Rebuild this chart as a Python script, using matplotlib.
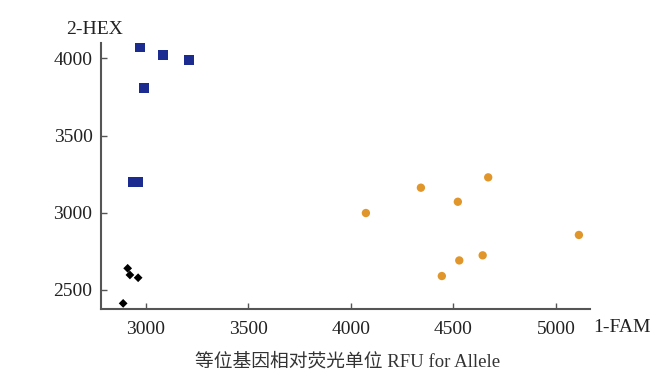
import matplotlib
matplotlib.use("Agg")
import matplotlib.pyplot as plt

plt.rcParams["font.family"] = ["Liberation Serif", "Noto Sans CJK SC"]

# blue squares
blue_x = [2973, 3087, 3213, 2992, 2939, 2965]
blue_y = [4075, 4021, 3991, 3806, 3199, 3199]
# orange circles
orange_x = [4342, 4670, 4522, 5112, 4643, 4529, 4444, 4074]
orange_y = [3162, 3229, 3071, 2856, 2724, 2691, 2590, 2998]
# black diamonds
black_x = [2913, 2924, 2964, 2891]
black_y = [2640, 2597, 2579, 2413]

x_ticks = [3000, 3500, 4000, 4500, 5000]
y_ticks = [2500, 3000, 3500, 4000]

fig = plt.figure(figsize=(6.57, 3.91), dpi=100)
ax = fig.add_axes([0.1534, 0.2107, 0.898 - 0.1534, 0.8908 - 0.2107])

ax.scatter(blue_x, blue_y, marker="s", s=50, color="#1c2b8f", edgecolors="none")
ax.scatter(orange_x, orange_y, marker="o", s=36, color="#e0962a", edgecolors="none")
ax.scatter(black_x, black_y, marker="D", s=20, color="black", edgecolors="none")

ax.set_xlim(2782, 5166)
ax.set_ylim(2379, 4101)
ax.set_xticks(x_ticks)
ax.set_yticks(y_ticks)
ax.tick_params(direction="in", length=4, width=1, colors="#555555", labelcolor="#222222",
               labelsize=14)
ax.tick_params(axis="x", pad=9)
ax.tick_params(axis="y", pad=6)
for side in ["top", "right"]:
    ax.spines[side].set_visible(False)
for side in ["left", "bottom"]:
    ax.spines[side].set_color("#555555")
    ax.spines[side].set_linewidth(1.5)

fig.text(95 / 657, 1 - 30 / 391, "2-HEX", ha="center", va="center", fontsize=14, color="#222222")
fig.text(593 / 657, 1 - 327 / 391, "1-FAM", ha="left", va="center", fontsize=14, color="#222222")
fig.text(348 / 657, 1 - 362 / 391, "等位基因相对荧光单位 RFU for Allele", ha="center", va="center",
         fontsize=13.5, color="#333333")

fig.savefig("out.png", dpi=100)
